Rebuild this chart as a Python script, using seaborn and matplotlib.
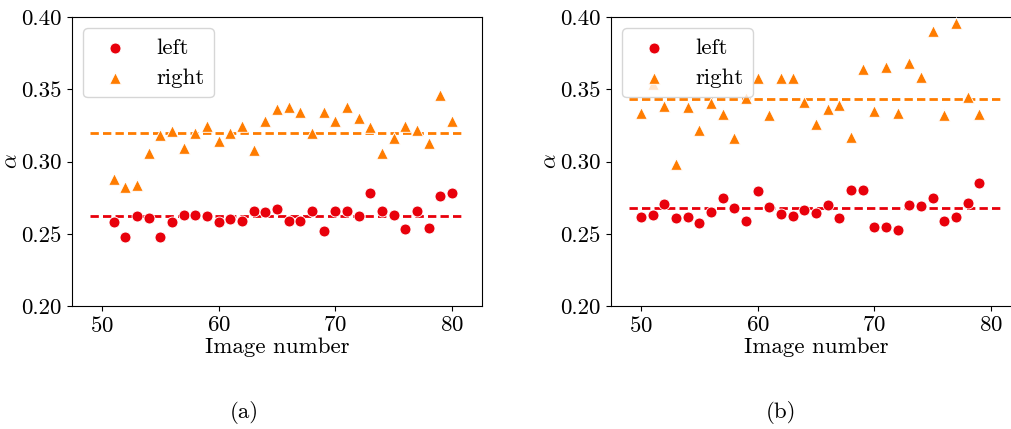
import matplotlib
matplotlib.use("Agg")
import matplotlib.pyplot as plt
import seaborn as sns
import numpy as np
from matplotlib.ticker import FormatStrFormatter

# ---- data ----
images_a = list(range(51, 81))
left_a = [0.258, 0.248, 0.262, 0.261, 0.248, 0.258, 0.263, 0.263, 0.262, 0.258,
          0.260, 0.259, 0.266, 0.265, 0.267, 0.259, 0.259, 0.266, 0.252, 0.266,
          0.266, 0.262, 0.278, 0.266, 0.263, 0.253, 0.266, 0.254, 0.276, 0.278]
right_a = [0.288, 0.2825, 0.2835, 0.306, 0.318, 0.321, 0.309, 0.320, 0.3245, 0.314,
           0.320, 0.3247, 0.308, 0.328, 0.336, 0.3376, 0.334, 0.320, 0.334, 0.328,
           0.3376, 0.330, 0.3236, 0.306, 0.3164, 0.3245, 0.3217, 0.313, 0.346, 0.328]
mean_left_a = 0.262
mean_right_a = 0.320

images_b = list(range(50, 80))
left_b = [0.2616, 0.2632, 0.2709, 0.2612, 0.2614, 0.2574, 0.2653, 0.2745, 0.2681, 0.2591,
          0.2794, 0.2685, 0.2637, 0.2623, 0.2667, 0.2644, 0.2699, 0.2609, 0.2805, 0.2803,
          0.2545, 0.2545, 0.2528, 0.2701, 0.2695, 0.2745, 0.2591, 0.2616, 0.2711, 0.2849]
right_b = [0.3336, 0.3539, 0.3382, 0.2985, 0.3377, 0.3216, 0.3405, 0.3327, 0.3163, 0.3439,
           0.3580, 0.3320, 0.3576, 0.3576, 0.3410, 0.3257, 0.3363, 0.3391, 0.3167, 0.3638,
           0.3350, 0.3654, 0.3336, 0.3684, 0.3587, 0.3906, 0.3324, 0.3959, 0.3444, 0.3329]
mean_left_b = 0.2676
mean_right_b = 0.3435

line_range = (49, 81)
yticks = [0.20, 0.25, 0.30, 0.35, 0.40]
xticks = [50, 60, 70, 80]
labels = ["left", "right"]
captions = ["(a)", "(b)"]

RED = "#E8000B"
ORANGE = "#FF7C00"

plt.rcParams["font.family"] = ["cmr10", "DejaVu Serif"]
plt.rcParams["mathtext.fontset"] = "cm"
plt.rcParams["axes.formatter.use_mathtext"] = True
plt.rcParams["font.size"] = 16.5

fig = plt.figure(figsize=(10.11, 4.29), dpi=100)
W, H = 1011, 429
ax_w = 410.6 / W
ax_h = 289 / H
bottom = (H - 306) / H
axes = [fig.add_axes([71.7 / W, bottom, ax_w, ax_h]),
        fig.add_axes([610.7 / W, bottom, ax_w, ax_h])]

panels = [(images_a, left_a, right_a, mean_left_a, mean_right_a),
          (images_b, left_b, right_b, mean_left_b, mean_right_b)]

for ax, (imgs, lv, rv, ml, mr) in zip(axes, panels):
    sns.scatterplot(x=imgs, y=lv, ax=ax, color=RED, marker="o", s=62, label=labels[0], zorder=3)
    sns.scatterplot(x=imgs, y=rv, ax=ax, color=ORANGE, marker="^", s=70, label=labels[1], zorder=3)
    ax.hlines(ml, *line_range, colors=RED, linestyles=(0, (3, 1.5)), linewidth=2, zorder=2)
    ax.hlines(mr, *line_range, colors=ORANGE, linestyles=(0, (3, 1.5)), linewidth=2, zorder=2)
    ax.set_ylim(0.20, 0.40)
    ax.set_xlim(47.4, 82.6)
    ax.set_yticks(yticks)
    ax.set_xticks(xticks)
    ax.yaxis.set_major_formatter(FormatStrFormatter("%.2f"))
    ax.set_xlabel("Image number", labelpad=1)
    ax.set_ylabel(r"$\alpha$", labelpad=0)
    ax.legend(loc="upper left", labelspacing=0.45)

fig.text(244 / W, 1 - 412 / H, captions[0], ha="center", va="center")
fig.text(781 / W, 1 - 412 / H, captions[1], ha="center", va="center")

fig.savefig("out.png", dpi=100)
